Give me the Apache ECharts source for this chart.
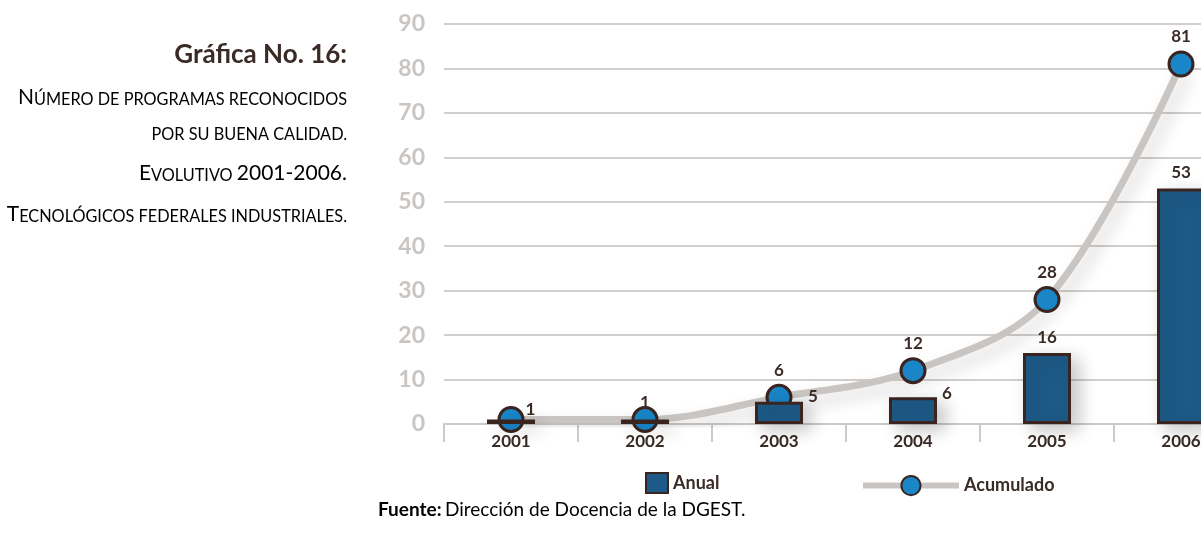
<!DOCTYPE html>
<html>
<head>
<meta charset="utf-8">
<script src="https://cdn.jsdelivr.net/npm/echarts@6/dist/echarts.min.js"></script>
<style>
html,body{margin:0;padding:0;background:#fff;}
#c{width:1201px;height:538px;}
</style>
</head>
<body>
<div id="c"></div>
<script>
var categories = ['2001', '2002', '2003', '2004', '2005', '2006'];
var anual = [1, 1, 5, 6, 16, 53];
var acumulado = [1, 1, 6, 12, 28, 81];
var yTicks = [0, 10, 20, 30, 40, 50, 60, 70, 80, 90];

var FONT = 'Lato';
var DARK = '#3a2b26';

var chart = echarts.init(document.getElementById('c'), null, {renderer: 'canvas'});

var barLabels = [
  {show: false}, {show: false},
  {show: true, position: 'right', offset: [0, -16]},
  {show: true, position: 'right', offset: [0, -17]},
  {show: true, position: 'top', offset: [0, -2]},
  {show: true, position: 'top', offset: [0, -2]}
];
var lineLabels = [
  {show: true, position: 'right', offset: [-4, -10]},
  {show: true, position: 'top', offset: [0, 10]},
  {show: true, position: 'top', offset: [0, 0]},
  {show: true, position: 'top', offset: [0, 0]},
  {show: true, position: 'top', offset: [0, 0]},
  {show: true, position: 'top', offset: [0, 0]}
];

var bigStyle = {fontSize: 21, fontFamily: FONT, color: DARK, verticalAlign: 'bottom', lineHeight: 22};
var smallStyle = {fontSize: 16.3, fontFamily: FONT, color: DARK, verticalAlign: 'bottom', lineHeight: 22};

var option = {
  backgroundColor: '#ffffff',
  animation: false,
  textStyle: {fontFamily: FONT},
  grid: {left: 444, top: 24, width: 804, height: 400, containLabel: false, outerBoundsMode: 'none'},
  xAxis: {
    type: 'category',
    data: categories,
    boundaryGap: true,
    axisLine: {show: true, lineStyle: {color: '#cdc9c6', width: 2}},
    axisTick: {show: true, length: 18, lineStyle: {color: '#cdc9c6', width: 2}},
    axisLabel: {color: DARK, fontSize: 17, fontWeight: 'bold', fontFamily: FONT, margin: 9}
  },
  yAxis: {
    type: 'value',
    min: yTicks[0],
    max: yTicks[yTicks.length - 1],
    interval: 10,
    axisLine: {show: false},
    axisTick: {show: false},
    axisLabel: {color: '#c9c5c2', fontSize: 23, fontWeight: 'bold', fontFamily: FONT, margin: 19},
    splitLine: {show: true, lineStyle: {color: '#d2cecb', width: 2}}
  },
  legend: [
    {
      data: ['Anual'],
      left: 640, top: 467,
      icon: 'rect',
      itemWidth: 22, itemHeight: 20,
      itemGap: 8,
      textStyle: {color: DARK, fontSize: 18, fontWeight: 'bold', fontFamily: FONT}
    },
    {
      data: ['Acumulado'],
      left: 855, top: 470,
      itemWidth: 96, itemHeight: 24,
      itemGap: 8,
      lineStyle: {width: 6},
      textStyle: {color: DARK, fontSize: 18, fontWeight: 'bold', fontFamily: FONT}
    }
  ],
  series: [
    {
      name: 'Anual',
      type: 'bar',
      barWidth: 48,
      data: anual.map(function (v, i) { return {value: v, label: barLabels[i]}; }),
      itemStyle: {
        color: '#1d5a87',
        borderColor: '#3a2420',
        borderWidth: 3,
        shadowColor: 'rgba(0,0,0,0.22)',
        shadowBlur: 18,
        shadowOffsetX: 8,
        shadowOffsetY: 6
      },
      label: {color: DARK, fontSize: 17, fontWeight: 'bold', fontFamily: FONT},
      z: 4
    },
    {
      name: 'Acumulado',
      type: 'line',
      smooth: 0.35,
      data: acumulado.map(function (v, i) { return {value: v, label: lineLabels[i]}; }),
      symbol: 'circle',
      symbolSize: 24,
      lineStyle: {
        color: '#c9c5c2',
        width: 7,
        shadowColor: 'rgba(0,0,0,0.18)',
        shadowBlur: 16,
        shadowOffsetX: 6,
        shadowOffsetY: 8
      },
      itemStyle: {
        color: '#1a86c8',
        borderColor: '#3a2420',
        borderWidth: 3
      },
      label: {color: DARK, fontSize: 17, fontWeight: 'bold', fontFamily: FONT},
      z: 3
    }
  ],
  graphic: [
    {
      type: 'text', right: 854, top: 42,
      style: {text: 'Gráfica No. 16:', fill: DARK, font: 'bold 26px ' + FONT, align: 'right'}
    },
    {
      type: 'text', right: 854, top: 87,
      style: {
        text: '{b|N}{s|ÚMERO DE PROGRAMAS RECONOCIDOS}',
        align: 'right',
        rich: {b: bigStyle, s: smallStyle}
      }
    },
    {
      type: 'text', right: 854, top: 127,
      style: {
        text: '{s|POR SU BUENA CALIDAD.}',
        align: 'right',
        rich: {s: smallStyle}
      }
    },
    {
      type: 'text', right: 854, top: 163,
      style: {
        text: '{b|E}{s|VOLUTIVO }{b|2001-2006.}',
        align: 'right',
        rich: {b: bigStyle, s: smallStyle}
      }
    },
    {
      type: 'text', right: 854, top: 204,
      style: {
        text: '{b|T}{s|ECNOLÓGICOS FEDERALES INDUSTRIALES.}',
        align: 'right',
        rich: {b: bigStyle, s: smallStyle}
      }
    },
    {
      type: 'text', left: 378, top: 500,
      style: {
        text: '{f|Fuente:} {n|Dirección de Docencia de la DGEST.}',
        rich: {
          f: {fontSize: 19, fontWeight: 'bold', fontFamily: FONT, color: '#1e1e1e'},
          n: {fontSize: 19, fontFamily: FONT, color: '#1e1e1e'}
        }
      }
    }
  ]
};

chart.setOption(option);
</script>
</body>
</html>
